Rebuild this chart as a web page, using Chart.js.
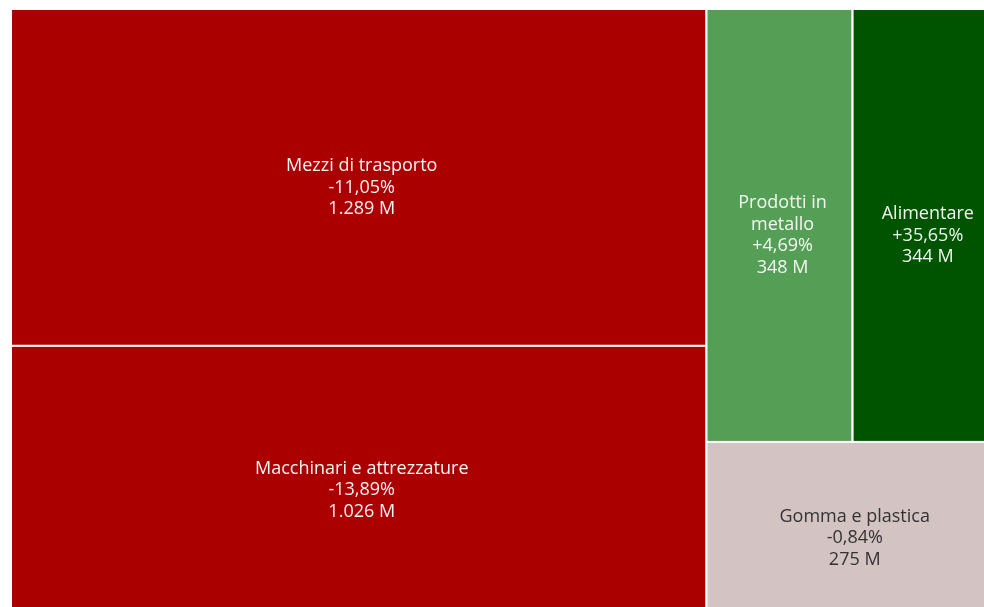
<!DOCTYPE html>
<html>
<head>
<meta charset="utf-8">
<script src="https://cdn.jsdelivr.net/npm/chart.js@4/dist/chart.umd.min.js"></script>
<style>
  html, body { margin: 0; padding: 0; background: #fff; overflow: hidden; }
  #wrap { position: absolute; left: 11px; top: 9px; width: 986px; height: 605px; }
</style>
</head>
<body>
<div id="wrap"><canvas id="tree"></canvas></div>
<script>
// settori, export (milioni) e variazione %
const sectors = ['Mezzi di trasporto', 'Macchinari e attrezzature', 'Prodotti in metallo', 'Alimentare', 'Gomma e plastica'];
const exportValues = [1289, 1026, 348, 344, 275];
const changePct = [-11.05, -13.89, 4.69, 35.65, -0.84];
const cellColors = ['#aa0000', '#aa0000', '#549f55', '#005400', '#d3c3c3'];
const textColors = ['#f8f4f4', '#f8f4f4', '#f4f8f4', '#f0f6f0', '#333333'];

const PHI = (1 + Math.sqrt(5)) / 2;

// squarified layout (stesso schema di d3.treemapSquarify)
function squarify(values, x0, y0, x1, y1) {
  const out = [];
  let rest = values.reduce((a, b) => a + b, 0);
  let i0 = 0;
  const n = values.length;
  while (i0 < n) {
    const dx = x1 - x0, dy = y1 - y0;
    let i1 = i0;
    let sum = values[i1++];
    let minV = sum, maxV = sum;
    const alpha = Math.max(dy / dx, dx / dy) / (rest * PHI);
    let beta = sum * sum * alpha;
    let minRatio = Math.max(maxV / beta, beta / minV);
    for (; i1 < n; ++i1) {
      const v = values[i1];
      sum += v;
      if (v < minV) minV = v;
      if (v > maxV) maxV = v;
      beta = sum * sum * alpha;
      const r = Math.max(maxV / beta, beta / minV);
      if (r > minRatio) { sum -= v; break; }
      minRatio = r;
    }
    if (dx < dy) {
      // riga orizzontale in alto
      const ny = y0 + dy * sum / rest;
      let cx = x0;
      for (let k = i0; k < i1; k++) {
        const w = dx * values[k] / sum;
        out.push({ x0: cx, y0: y0, x1: cx + w, y1: ny });
        cx += w;
      }
      y0 = ny;
    } else {
      // colonna verticale a sinistra
      const nx = x0 + dx * sum / rest;
      let cy = y0;
      for (let k = i0; k < i1; k++) {
        const h = dy * values[k] / sum;
        out.push({ x0: x0, y0: cy, x1: nx, y1: cy + h });
        cy += h;
      }
      x0 = nx;
    }
    rest -= sum;
    i0 = i1;
  }
  return out;
}

const fmtValue = v => String(v).replace(/\B(?=(\d{3})+(?!\d))/g, '.') + ' M';
const fmtPct = p => (p > 0 ? '+' : '') + p.toFixed(2).replace('.', ',') + '%';

function wrapText(ctx, text, maxW) {
  const words = text.split(' ');
  const lines = [];
  let cur = '';
  words.forEach(w => {
    const t = cur ? cur + ' ' + w : w;
    if (ctx.measureText(t).width > maxW && cur) {
      lines.push(cur);
      cur = w;
    } else {
      cur = t;
    }
  });
  if (cur) lines.push(cur);
  return lines;
}

const treemapPlugin = {
  id: 'treemapCells',
  afterDatasetsDraw(chart) {
    const { ctx, chartArea, scales } = chart;
    const xs = scales.x, ys = scales.y;
    const W = chartArea.width, H = chartArea.height;
    // layout in unità di asse (0..1), proporzioni prese dall'area del grafico
    const rects = squarify(exportValues, 0, 0, W, H).map(r => ({
      x0: r.x0 / W, x1: r.x1 / W, y0: r.y0 / H, y1: r.y1 / H
    }));

    ctx.save();
    rects.forEach((r, i) => {
      const left = xs.getPixelForValue(r.x0);
      const right = xs.getPixelForValue(r.x1);
      const top = ys.getPixelForValue(r.y0);
      const bottom = ys.getPixelForValue(r.y1);
      ctx.fillStyle = cellColors[i];
      ctx.fillRect(left, top, right - left, bottom - top);
      ctx.strokeStyle = '#ffffff';
      ctx.lineWidth = 2;
      ctx.strokeRect(left, top, right - left, bottom - top);

      ctx.font = '18px "Open Sans", "DejaVu Sans", sans-serif';
      ctx.fillStyle = textColors[i];
      ctx.textAlign = 'center';
      ctx.textBaseline = 'middle';
      const lines = wrapText(ctx, sectors[i], right - left - 14)
        .concat([fmtPct(changePct[i]), fmtValue(exportValues[i])]);
      const lh = 21.5;
      const cx = (left + right) / 2 + 3;
      const cy = (top + bottom) / 2 + 10;
      const start = cy - (lines.length - 1) * lh / 2;
      lines.forEach((ln, k) => ctx.fillText(ln, cx, start + k * lh));
    });
    ctx.restore();
  }
};

new Chart(document.getElementById('tree'), {
  type: 'scatter',
  data: { datasets: [{ data: [], showLine: false }] },
  options: {
    responsive: true,
    maintainAspectRatio: false,
    animation: false,
    layout: { padding: 0 },
    plugins: { legend: { display: false }, tooltip: { enabled: false } },
    scales: {
      x: { type: 'linear', min: 0, max: 1, display: false },
      y: { type: 'linear', min: 0, max: 1, reverse: true, display: false }
    }
  },
  plugins: [treemapPlugin]
});
</script>
</body>
</html>
